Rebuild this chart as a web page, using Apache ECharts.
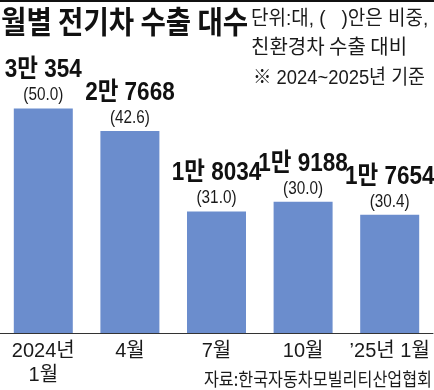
<!DOCTYPE html>
<html><head><meta charset="utf-8">
<script src="https://cdn.jsdelivr.net/npm/echarts@6/dist/echarts.min.js"></script>
<style>html,body{margin:0;padding:0;background:#fff}#c{width:434px;height:390px}</style>
</head><body><div id="c"></div>
<script>
const categories = ['2024년\n1월', '4월', '7월', '10월', '\u201925년 1월'];
const exports = [30354, 27668, 18034, 19188, 17654];
const shares = ['50.0', '42.6', '31.0', '30.0', '30.4'];

const LAT = '"Liberation Sans", "Noto Sans CJK KR", sans-serif';
const KR = '"Noto Sans CJK KR", sans-serif';

function fmt(v) {
  return Math.floor(v / 10000) + '만 ' + (v % 10000);
}

const chart = echarts.init(document.getElementById('c'), null, {renderer: 'canvas'});
const staticGraphics = [
  {type: 'rect', left: 0, top: 0, shape: {width: 434, height: 2}, style: {fill: '#111'}},
  {type: 'text', x: 1, y: 6, scaleX: 0.89, style: {text: '월별 전기차 수출 대수', font: 'bold 31px ' + KR, fill: '#111'}},
  {type: 'text', x: 251, y: 9, scaleX: 0.95, style: {text: '단위:대, (   )안은 비중,', font: '20px ' + LAT, fill: '#1a1a1a'}},
  {type: 'text', x: 251, y: 36, scaleX: 1.0, style: {text: '친환경차 수출 대비', font: '20px ' + KR, fill: '#1a1a1a'}},
  {type: 'text', x: 253, y: 68, scaleX: 0.92, style: {text: '※ 2024~2025년 기준', font: '20px ' + LAT, fill: '#1a1a1a'}},
  {type: 'text', x: 432, y: 370, scaleX: 0.9, style: {text: '자료:한국자동차모빌리티산업협회', font: '18px ' + KR, fill: '#1a1a1a', textAlign: 'right'}}
];
chart.setOption({
  animation: false,
  backgroundColor: '#fff',
  grid: {left: -3, right: 1, top: 78, bottom: 57},
  xAxis: {
    type: 'category',
    data: categories,
    axisLine: {lineStyle: {color: '#333', width: 1}},
    axisTick: {show: false},
    axisLabel: {fontSize: 20, color: '#1a1a1a', fontFamily: LAT, lineHeight: 24, margin: 6, interval: 0}
  },
  yAxis: {type: 'value', min: 3500, max: 34000, show: false, splitLine: {show: false}},
  series: [{
    type: 'bar',
    data: exports,
    barWidth: 59,
    itemStyle: {color: '#6b8dcd'},
    label: {show: false}
  }],
  graphic: staticGraphics
});

const labelGraphics = [];
exports.forEach((v, i) => {
  const pt = chart.convertToPixel({seriesIndex: 0}, [i, v]);
  labelGraphics.push({
    type: 'text', x: pt[0], y: pt[1] - 38, scaleX: 0.9,
    style: {text: fmt(v), font: 'bold 25px ' + LAT, fill: '#111', textAlign: 'center', textVerticalAlign: 'middle'}
  });
  labelGraphics.push({
    type: 'text', x: pt[0], y: pt[1] - 13, scaleX: 0.85,
    style: {text: '(' + shares[i] + ')', font: '18px ' + LAT, fill: '#1a1a1a', textAlign: 'center', textVerticalAlign: 'middle'}
  });
});
chart.setOption({graphic: staticGraphics.concat(labelGraphics)});
</script></body></html>
